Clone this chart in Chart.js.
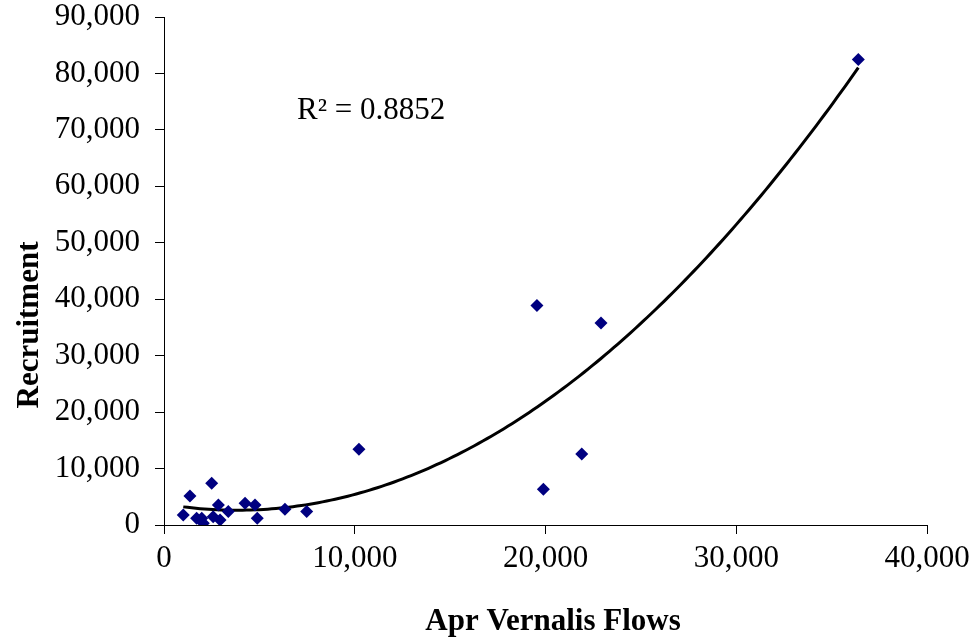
<!DOCTYPE html>
<html>
<head>
<meta charset="utf-8">
<script src="https://cdn.jsdelivr.net/npm/chart.js@4.4.0/dist/chart.umd.min.js"></script>
<style>
  html, body { margin: 0; padding: 0; background: #fff; overflow: hidden; }
  #recruitChart { display: block; }
</style>
</head>
<body>
<canvas id="recruitChart" width="974" height="642"></canvas>
<script>
// Apr Vernalis flows vs recruitment
var flows = [1010, 1360, 1710, 1980, 2060, 2500, 2580, 2850, 2940, 3370, 4250, 4770, 4890,
             6340, 7480, 10220, 19550, 19890, 21900, 22910, 36400];
var recruits = [1780, 5150, 1190, 1190, 300, 7400, 1480, 3550, 890, 2370, 3850, 3550, 1190,
                2790, 2370, 13440, 38880, 6340, 12600, 35800, 82470];
var xTicks = [0, 10000, 20000, 30000, 40000];
var yTicks = [0, 10000, 20000, 30000, 40000, 50000, 60000, 70000, 80000, 90000];
var rSquaredText = 'R\u00B2 = 0.8852';

var points = [];
flows.forEach(function(f, i) {
    points.push({x: f, y: recruits[i]});
});

// order 2 polynomial trendline, least squares like the spreadsheet does
function polyFit2(xs, ys) {
    var n = xs.length, s = [0, 0, 0, 0, 0], t = [0, 0, 0];
    for (var i = 0; i < n; i++) {
        var x = xs[i] / 1000, p = 1;
        for (var k = 0; k < 5; k++) { s[k] += p; if (k < 3) t[k] += p * ys[i]; p *= x; }
    }
    var m = [[s[0], s[1], s[2], t[0]], [s[1], s[2], s[3], t[1]], [s[2], s[3], s[4], t[2]]];
    for (var c = 0; c < 3; c++) {
        for (var r = c + 1; r < 3; r++) {
            var f = m[r][c] / m[c][c];
            for (var j = c; j < 4; j++) m[r][j] -= f * m[c][j];
        }
    }
    var res = [0, 0, 0];
    for (var r2 = 2; r2 >= 0; r2--) {
        var sum = m[r2][3];
        for (var j2 = r2 + 1; j2 < 3; j2++) sum -= m[r2][j2] * res[j2];
        res[r2] = sum / m[r2][r2];
    }
    return res;
}
var coef = polyFit2(flows, recruits);
var xMin = Math.min.apply(null, flows), xMax = Math.max.apply(null, flows);
var trend = [];
for (var i = 0; i <= 80; i++) {
    var xv = xMin + (xMax - xMin) * i / 80, xk = xv / 1000;
    trend.push({x: xv, y: coef[0] + coef[1] * xk + coef[2] * xk * xk});
}

var serif = "'Liberation Serif', 'Times New Roman', serif";

var textPlugin = {
    id: 'textPlugin',
    afterDraw: function(chart) {
        var ctx = chart.ctx;
        ctx.save();
        ctx.fillStyle = '#000';
        ctx.textAlign = 'center';
        ctx.textBaseline = 'middle';
        ctx.font = 'bold 31px ' + serif;
        ctx.fillText('Apr Vernalis Flows', 553, 622);
        ctx.translate(30, 325);
        ctx.rotate(-Math.PI / 2);
        ctx.fillText('Recruitment', 0, 0);
        ctx.restore();
        ctx.save();
        ctx.fillStyle = '#000';
        ctx.textAlign = 'left';
        ctx.font = '31px ' + serif;
        ctx.textBaseline = 'middle';
        ctx.fillText(rSquaredText, 297, 111);
        ctx.restore();
    }
};

var bgPlugin = {
    id: 'bgPlugin',
    beforeDraw: function(chart) {
        var ctx = chart.ctx;
        ctx.save();
        ctx.fillStyle = '#fff';
        ctx.fillRect(0, 0, chart.width, chart.height);
        ctx.restore();
    }
};

function noOverflow(scale) {
    scale.paddingTop = 0;
    scale.paddingBottom = 0;
    scale.paddingLeft = 0;
    scale.paddingRight = 0;
}

var recruitChart = new Chart(document.getElementById('recruitChart'), {
    type: 'scatter',
    data: {
        datasets: [{
            label: 'Recruitment',
            data: points,
            pointStyle: 'rectRot',
            pointRadius: 6.5,
            pointHoverRadius: 6.5,
            backgroundColor: '#000080',
            borderColor: '#000080',
            borderWidth: 0,
            order: 1
        }, {
            type: 'line',
            label: 'Poly. trend',
            data: trend,
            borderColor: '#000',
            borderWidth: 3,
            pointRadius: 0,
            fill: false,
            tension: 0.3,
            order: 2
        }]
    },
    options: {
        responsive: false,
        animation: false,
        devicePixelRatio: 1,
        layout: { padding: { left: 0, top: 17, right: 47, bottom: 0 } },
        plugins: { legend: { display: false }, tooltip: { enabled: false } },
        scales: {
            x: {
                type: 'linear',
                min: 0, max: 40000,
                afterFit: function(scale) { scale.height = 117; noOverflow(scale); },
                afterBuildTicks: function(scale) { scale.ticks = xTicks.map(function(v) { return {value: v}; }); },
                border: { color: '#000', width: 1 },
                grid: { drawOnChartArea: false, tickLength: 9, color: '#000' },
                ticks: {
                    color: '#000', padding: 6, maxRotation: 0,
                    font: { family: serif, size: 31 },
                    callback: function(v) { return v.toLocaleString('en-US'); }
                }
            },
            y: {
                type: 'linear',
                min: 0, max: 90000,
                afterFit: function(scale) { scale.width = 164; noOverflow(scale); },
                afterBuildTicks: function(scale) { scale.ticks = yTicks.map(function(v) { return {value: v}; }); },
                border: { color: '#000', width: 1 },
                grid: { drawOnChartArea: false, tickLength: 9, color: '#000' },
                ticks: {
                    color: '#000', padding: 15,
                    font: { family: serif, size: 31 },
                    callback: function(v) { return v.toLocaleString('en-US'); }
                }
            }
        }
    },
    plugins: [bgPlugin, textPlugin]
});
</script>
</body>
</html>
